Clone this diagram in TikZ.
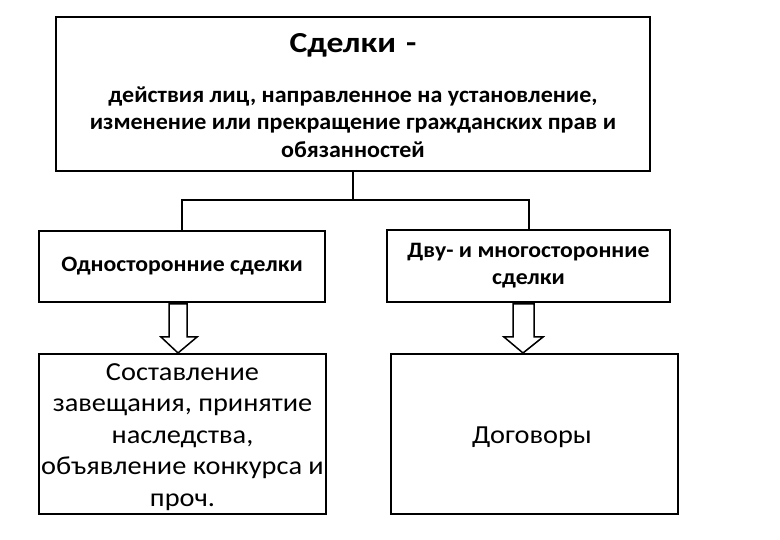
\documentclass[tikz,border=0pt]{standalone}
\usepackage{fontspec}
\setmainfont{Carlito}
\newfontfamily\titlefont[FakeStretch=1.16]{Carlito}
\newfontfamily\deffont[FakeStretch=1.045]{Carlito}
\newfontfamily\boxfont[FakeStretch=1.08]{Carlito}
\newfontfamily\plainfont[FakeStretch=1.09]{Carlito}
\usetikzlibrary{calc}
\begin{document}
\begin{tikzpicture}[x=1pt,y=-1pt,
  box/.style={draw,line width=2pt,rectangle,inner sep=0pt},
  txt/.style={inner sep=0pt,align=center},
  bigarrow/.style={draw,line width=1.5pt,fill=white,line join=miter},
  conn/.style={line width=2pt}]
\useasboundingbox (0,0) rectangle (780,540);
% boxes
\node[box,minimum width=594pt,minimum height=154pt] (top) at (353,94) {};
\node[box,minimum width=286pt,minimum height=71pt] (one) at (182,266.5) {};
\node[box,minimum width=283pt,minimum height=72pt] (multi) at (528.5,266) {};
\node[box,minimum width=287pt,minimum height=160pt] (will) at (182.5,434) {};
\node[box,minimum width=287pt,minimum height=160pt] (contr) at (534.5,434) {};
% texts
\node[txt,font=\titlefont\fontsize{29}{34}\bfseries\selectfont] (title) at (353,45) {Сделки\hspace{0.35em}-};
\node[txt,font=\deffont\fontsize{23}{27.5}\bfseries\selectfont] (def) at (353,122) {действия лиц, направленное на установление,\\изменение или прекращение гражданских прав и\\обязанностей};
\node[txt,font=\boxfont\fontsize{22}{27}\bfseries\selectfont] (onet) at (one.center) {Односторонние сделки};
\node[txt,font=\boxfont\fontsize{22}{27}\bfseries\selectfont] (multit) at (multi.center) {Дву- и многосторонние\\сделки};
\node[txt,font=\plainfont\fontsize{26}{31.5}\selectfont] (willt) at (182.5,437) {Составление\\завещания, принятие\\наследства,\\объявление конкурса и\\проч.};
\node[txt,font=\plainfont\fontsize{26}{31}\selectfont] (contrt) at (532,437) {Договоры};
% tree connectors
\coordinate (bar) at (top.south |- 0,200);
\draw[conn] (top.south) -- (bar);
\draw[conn] (bar) -| (one.north);
\draw[conn] (bar) -| (multi.north);
% block arrows
\draw[bigarrow] ($(one.south)+(-13,1)$) -- ($(one.south)+(-13,34)$) -- ($(one.south)+(-21,34)$) -- ($(will.north)+(-4.5,0)$) -- ($(one.south)+(15,34)$) -- ($(one.south)+(5,34)$) -- ($(one.south)+(5,1)$) -- cycle;
\draw[bigarrow] ($(multi.south)+(-15.5,1)$) -- ($(multi.south)+(-15.5,34)$) -- ($(multi.south)+(-24.5,34)$) -- ($(contr.north)+(-11.5,0)$) -- ($(multi.south)+(14.5,34)$) -- ($(multi.south)+(5.5,34)$) -- ($(multi.south)+(5.5,1)$) -- cycle;
\end{tikzpicture}
\end{document}
